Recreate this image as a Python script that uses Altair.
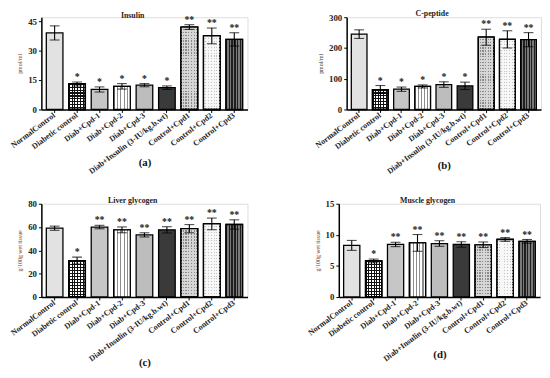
import altair as alt
import pandas as pd

cats = ["NormalControl", "Diabetic control", "Diab+Cpd-1", "Diab+Cpd-2", "Diab+Cpd-3",
        "Diab+Insulin (3-IU/kg.b.wt)", "Control+Cpd1", "Control+Cpd2", "Control+Cpd3"]

insulin_mean = [39.0, 13.0, 10.2, 11.8, 12.4, 11.1, 42.0, 37.5, 35.7]
insulin_err = [3.6, 1.0, 1.3, 1.4, 0.8, 0.9, 1.2, 4.0, 3.4]
insulin_sig = ["", "*", "*", "*", "*", "*", "**", "**", "**"]

cpep_mean = [245, 65, 66, 75, 81, 77, 235, 228, 227]
cpep_err = [14, 13, 7, 5, 9, 12, 26, 28, 23]
cpep_sig = ["", "*", "*", "*", "*", "*", "**", "**", "**"]

liver_mean = [59.0, 31.2, 60.0, 57.6, 53.3, 57.6, 58.6, 62.7, 62.2]
liver_err = [1.8, 3.0, 1.5, 2.5, 1.8, 2.7, 3.5, 5.0, 4.0]
liver_sig = ["", "*", "**", "**", "**", "**", "**", "**", "**"]

muscle_mean = [8.3, 5.8, 8.45, 8.7, 8.6, 8.45, 8.4, 9.25, 8.95]
muscle_err = [0.8, 0.3, 0.35, 1.35, 0.45, 0.45, 0.45, 0.3, 0.3]
muscle_sig = ["", "*", "**", "**", "**", "**", "**", "**", "**"]

FONT = "Liberation Serif"
BASE_COLORS = ["#e2e2e2", "#ffffff", "#c6c6c6", "#ffffff", "#bdbdbd",
               "#3a3a3a", "#8a8a8a", "#c4c4c4", "#777777"]
TRANSPARENT = "rgba(255,255,255,0)"


def stripes(n, line_color, bg_color, frac, vertical=True):
    stops = []
    for i in range(n):
        a = round(i / n, 4)
        b = round((i + frac) / n, 4)
        c = round((i + 1) / n, 4)
        stops += [{"offset": a, "color": line_color}, {"offset": b, "color": line_color},
                  {"offset": b, "color": bg_color}, {"offset": c, "color": bg_color}]
    return {"gradient": "linear", "stops": stops, "x1": 0, "y1": 0,
            "x2": 1 if vertical else 0, "y2": 0 if vertical else 1}


def panel(title, mean, err, sig, ymax, yticks, ytitle, ytitle_color, caption, width, height, caption_y):
    df = pd.DataFrame({
        "group": cats,
        "value": mean,
        "lo": [m - e for m, e in zip(mean, err)],
        "hi": [m + e for m, e in zip(mean, err)],
        "sig": sig,
    })
    xenc = alt.X("group:N", sort=cats,
                 scale=alt.Scale(domain=cats, paddingInner=0.26, paddingOuter=0.22),
                 axis=alt.Axis(title=caption, labelAngle=-37, labelAlign="right",
                               labelBaseline="middle", labelFont=FONT, labelFontWeight="bold",
                               labelFontSize=8.2, labelColor="#222", labelPadding=2,
                               tickSize=3, tickColor="black", domainColor="black",
                               domainWidth=1.5, titleFont=FONT, titleFontSize=11,
                               titleFontWeight="bold", titleColor="#111", titleY=caption_y,
                               titleBaseline="alphabetic", grid=False))
    yaxis = alt.Axis(title=ytitle, values=yticks, labelFont=FONT, labelFontWeight="bold",
                     labelFontSize=9, labelColor="#222", labelPadding=2, tickSize=3,
                     tickColor="black", domainColor="black", domainWidth=1.5,
                     titleFont=FONT, titleFontSize=6, titleFontWeight="normal",
                     titleColor=ytitle_color, titlePadding=5, grid=False)
    yscale = alt.Scale(domain=[0, ymax], nice=False, zero=True)

    def yv(field):
        return alt.Y(field, scale=yscale, axis=yaxis)

    base = alt.Chart(df)
    bars = base.mark_bar(stroke="black", strokeWidth=1.3).encode(
        x=xenc, y=yv("value:Q"),
        fill=alt.Fill("group:N", scale=alt.Scale(domain=cats, range=BASE_COLORS), legend=None))

    layers = [bars]

    def overlay(cat, grad):
        return base.transform_filter(alt.datum.group == cat).mark_bar(
            fill=grad, stroke="black", strokeWidth=1.3).encode(x=xenc, y=yv("value:Q"))

    def nh(cat):
        v = mean[cats.index(cat)]
        return max(2, int(round(v / ymax * height / 3.0)))

    # Diabetic control: black mesh with white holes
    layers.append(overlay("Diabetic control", stripes(6, "#111111", TRANSPARENT, 0.42, True)))
    layers.append(overlay("Diabetic control", stripes(nh("Diabetic control"), "#111111", TRANSPARENT, 0.42, False)))
    # Diab+Cpd-2: vertical grey lines on white
    layers.append(overlay("Diab+Cpd-2", stripes(5, "#8c8c8c", "#ffffff", 0.35, True)))
    # Control+Cpd1: grey dots on light grey
    layers.append(overlay("Control+Cpd1", stripes(6, "#d6d6d6", TRANSPARENT, 0.55, True)))
    layers.append(overlay("Control+Cpd1", stripes(nh("Control+Cpd1"), "#d6d6d6", TRANSPARENT, 0.55, False)))
    # Control+Cpd2: sparse dots on near-white
    layers.append(overlay("Control+Cpd2", stripes(6, "#f7f7f7", TRANSPARENT, 0.65, True)))
    layers.append(overlay("Control+Cpd2", stripes(nh("Control+Cpd2"), "#f7f7f7", TRANSPARENT, 0.65, False)))
    # Control+Cpd3: dark vertical stripes
    layers.append(overlay("Control+Cpd3", stripes(6, "#1e1e1e", "#7a7a7a", 0.5, True)))

    rule = base.mark_rule(color="black", strokeWidth=1.1).encode(
        x=xenc, y=yv("lo:Q"), y2="hi:Q")
    cap_lo = base.mark_tick(color="black", size=10, thickness=1.1).encode(x=xenc, y=yv("lo:Q"))
    cap_hi = base.mark_tick(color="black", size=10, thickness=1.1).encode(x=xenc, y=yv("hi:Q"))
    stars = base.mark_text(font=FONT, fontSize=10, fontWeight="bold", color="#222",
                           baseline="middle", dy=-5).encode(x=xenc, y=yv("hi:Q"), text="sig:N")
    layers += [rule, cap_lo, cap_hi, stars]

    return alt.layer(*layers).properties(
        width=width, height=height,
        title=alt.TitleParams(title, font=FONT, fontSize=8, fontWeight="bold",
                              color="#222", offset=-5, dx=-12, anchor="middle"))


BROWN = "#7a3b2e"
pa = panel("Insulin", insulin_mean, insulin_err, insulin_sig, 47, [0, 15, 30, 45],
           "pmol/ml", BROWN, "(a)", 210, 94, 57)
pb = panel("C-peptide", cpep_mean, cpep_err, cpep_sig, 300, [0, 100, 200, 300],
           "pmol/ml", "#333333", "(b)", 198, 94, 60)
pc = panel("Liver glycogen", liver_mean, liver_err, liver_sig, 80, [0, 20, 40, 60, 80],
           "g/100g wet tissue", BROWN, "(c)", 210, 95, 70)
pd_ = panel("Muscle glycogen", muscle_mean, muscle_err, muscle_sig, 15, [0, 5, 10, 15],
            "g/100g wet tissue", BROWN, "(d)", 205, 95, 62)

top = alt.hconcat(pa, pb, spacing=65)
bottom = alt.hconcat(pc, pd_, spacing=58)
chart = alt.vconcat(top, bottom, spacing=21).properties(
    padding={"left": 0, "top": -2, "right": 0, "bottom": 0}
).configure_view(stroke=None).configure(background="white")

chart.save("out.html", embed_options={"renderer": "svg", "actions": False})
